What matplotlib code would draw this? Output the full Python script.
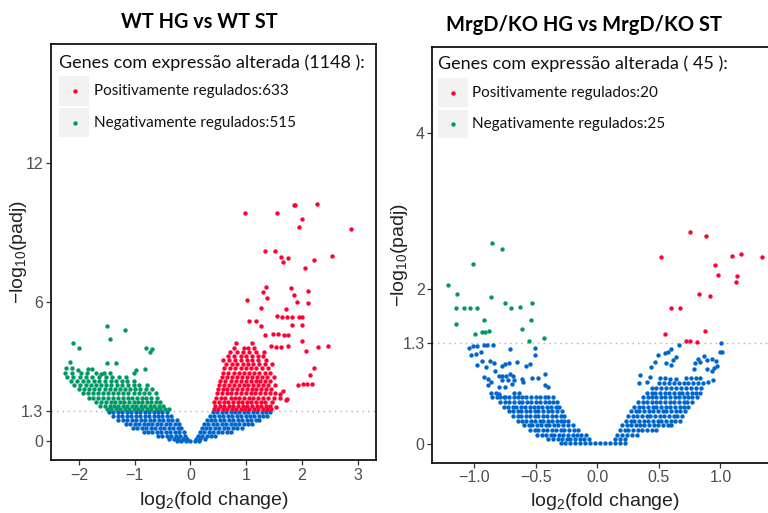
import matplotlib.pyplot as plt
from matplotlib.patches import Rectangle
import numpy as np

plt.rcParams['font.family'] = 'Liberation Sans'
plt.rcParams['mathtext.fontset'] = 'custom'
plt.rcParams['mathtext.rm'] = 'Liberation Sans'

UP, DOWN, NS = '#FF0033', '#009966', '#0066CC'
TXT = 'Lato'

# ---------------- WT HG vs WT ST ----------------
wt_up_scatter = [
    (0.98, 9.81), (1.55, 9.81), (1.85, 10.17), (1.88, 10.17), (2.28, 10.21), (2.00, 9.55), (1.95, 9.21), (2.89, 9.14),
    (1.34, 8.19), (1.52, 8.19), (1.62, 7.94), (1.76, 7.87), (1.66, 7.70), (2.54, 7.98), (2.21, 7.81), (2.06, 7.47),
    (1.35, 6.62), (1.31, 6.40), (1.37, 6.17), (1.02, 6.06), (1.80, 6.58), (1.85, 6.29), (2.11, 6.47), (1.92, 5.99),
    (2.11, 5.94), (1.26, 5.74), (1.72, 5.68), (1.55, 5.40), (1.64, 5.33), (1.74, 5.33), (1.82, 5.33), (1.94, 5.34),
    (2.01, 5.32), (1.06, 5.15), (1.18, 5.17), (1.27, 4.96), (1.83, 4.99), (2.01, 4.99), (1.34, 4.55), (1.49, 4.62),
    (1.58, 4.62), (1.68, 4.58), (1.76, 4.56), (2.01, 4.29), (1.45, 4.10), (1.54, 4.05), (1.63, 4.05), (1.75, 4.10),
    (2.29, 4.05), (2.47, 4.07), (2.07, 3.88), (2.21, 3.12), (2.14, 2.84), (1.93, 2.42), (2.02, 2.47), (2.10, 2.45),
    (2.18, 2.45), (1.66, 2.16), (1.61, 1.85), (1.71, 1.78), (1.74, 1.82), (1.54, 1.44), (1.60, 2.00),
]
wt_up_rows = [
    (1.36, [0.42, 0.50, 0.58, 0.66, 0.74, 0.82, 0.90, 0.98, 1.06, 1.14, 1.22, 1.30, 1.38, 1.45]),
    (1.52, [0.44, 0.53, 0.61, 0.69, 0.77, 0.86, 0.94, 1.02, 1.10, 1.19, 1.27, 1.35, 1.43]),
    (1.68, [0.43, 0.51, 0.60, 0.68, 0.76, 0.85, 0.93, 1.01, 1.09, 1.17, 1.26, 1.34, 1.47]),
    (1.86, [0.46, 0.55, 0.63, 0.72, 0.80, 0.88, 0.97, 1.05, 1.13, 1.22, 1.30, 1.39, 1.50]),
    (2.04, [0.47, 0.56, 0.65, 0.73, 0.82, 0.91, 0.99, 1.08, 1.16, 1.25, 1.33, 1.42, 1.52]),
    (2.22, [0.49, 0.58, 0.66, 0.75, 0.84, 0.92, 1.01, 1.10, 1.18, 1.27, 1.36, 1.45]),
    (2.40, [0.52, 0.61, 0.70, 0.78, 0.87, 0.96, 1.04, 1.13, 1.22, 1.30, 1.39, 1.52]),
    (2.58, [0.53, 0.63, 0.72, 0.81, 0.90, 0.99, 1.08, 1.17, 1.25, 1.34, 1.43]),
    (2.76, [0.56, 0.66, 0.75, 0.84, 0.93, 1.02, 1.11, 1.20, 1.29, 1.38, 1.50]),
    (2.94, [0.58, 0.68, 0.78, 0.87, 0.96, 1.05, 1.14, 1.23, 1.33, 1.43]),
    (3.12, [0.60, 0.71, 0.80, 0.90, 0.99, 1.09, 1.18, 1.28, 1.40]),
    (3.30, [0.64, 0.74, 0.84, 0.94, 1.03, 1.13, 1.23, 1.34, 1.47]),
    (3.48, [0.59, 0.70, 0.80, 0.91, 1.01, 1.11, 1.22, 1.36]),
    (3.66, [0.68, 0.79, 0.90, 1.00, 1.10, 1.21, 1.30]),
    (3.84, [0.71, 0.84, 0.95, 1.06, 1.18, 1.32]),
    (4.02, [0.78, 0.97, 1.04, 1.14]),
    (4.20, [0.81, 1.11]),
]
wt_down_scatter = [
    (-1.49, 4.95), (-1.17, 4.76), (-1.44, 4.39), (-2.11, 4.20), (-2.00, 4.01), (-0.80, 4.01), (-0.68, 3.97),
    (-0.72, 3.83), (-1.49, 3.35), (-1.34, 3.35), (-2.16, 3.40), (-2.23, 3.14), (-2.13, 3.14), (-2.02, 3.05),
    (-1.83, 3.11), (-1.76, 3.11), (-0.97, 3.06), (-1.01, 2.93), (-0.81, 3.09), (-1.61, 2.88), (-1.44, 2.92),
]
wt_down_rows = [
    (1.36, [-1.50, -1.42, -1.34, -1.26, -1.18, -1.10, -1.02, -0.94, -0.86, -0.78, -0.70, -0.62, -0.54, -0.46, -0.39]),
    (1.52, [-1.62, -1.53, -1.45, -1.37, -1.29, -1.21, -1.13, -1.05, -0.97, -0.89, -0.81, -0.73, -0.65, -0.57, -0.49]),
    (1.68, [-1.70, -1.61, -1.52, -1.43, -1.35, -1.27, -1.19, -1.10, -1.02, -0.94, -0.86, -0.78, -0.70, -0.62, -0.55]),
    (1.86, [-1.82, -1.74, -1.65, -1.56, -1.47, -1.38, -1.30, -1.21, -1.12, -1.04, -0.96, -0.87, -0.79, -0.70, -0.60]),
    (2.04, [-1.92, -1.83, -1.74, -1.65, -1.56, -1.47, -1.38, -1.29, -1.20, -1.11, -1.02, -0.93, -0.84, -0.74, -0.62]),
    (2.22, [-2.00, -1.90, -1.81, -1.72, -1.63, -1.54, -1.45, -1.36, -1.27, -1.18, -1.09, -1.00, -0.90, -0.80, -0.68]),
    (2.40, [-2.08, -1.98, -1.88, -1.79, -1.70, -1.60, -1.51, -1.42, -1.32, -1.22, -1.12, -1.02, -0.92, -0.78]),
    (2.58, [-2.14, -2.03, -1.93, -1.83, -1.73, -1.63, -1.53, -1.43, -1.33, -1.23, -1.13, -1.01]),
    (2.76, [-2.22, -2.10, -1.98, -1.87, -1.76, -1.64, -1.52, -1.40, -1.28, -1.15]),
    (2.94, [-2.25, -2.12, -1.97, -1.85, -1.70, -1.55]),
]
wt_ns_rows = [
    (1.22, [-1.46, -1.38, -1.30, -1.22, -1.14, -1.06, -0.98, -0.90, -0.82, -0.74, -0.66, -0.58, -0.50, -0.42]),
    (1.05, [-1.38, -1.30, -1.22, -1.14, -1.06, -0.98, -0.90, -0.82, -0.74, -0.66, -0.58, -0.50, -0.42, -0.34]),
    (0.88, [-1.30, -1.21, -1.13, -1.05, -0.97, -0.89, -0.81, -0.73, -0.65, -0.57, -0.49, -0.41, -0.33, -0.24]),
    (0.71, [-1.16, -1.08, -1.00, -0.92, -0.84, -0.76, -0.68, -0.60, -0.52, -0.44, -0.36, -0.28, -0.20]),
    (0.54, [-1.03, -0.95, -0.87, -0.79, -0.71, -0.63, -0.55, -0.47, -0.39, -0.31, -0.23, -0.16]),
    (0.38, [-0.84, -0.76, -0.68, -0.60, -0.52, -0.44, -0.36, -0.28, -0.20, -0.12]),
    (0.22, [-0.58, -0.50, -0.42, -0.34, -0.26, -0.18, -0.10]),
    (0.08, [-0.38, -0.30, -0.22, -0.14, -0.06, 0.10, 0.18, 0.26]),
    (0.01, [-0.24, -0.16, -0.08, 0.00, 0.08, 0.16]),
    (0.22, [0.13, 0.21, 0.29, 0.37, 0.45]),
    (0.38, [0.17, 0.25, 0.33, 0.41, 0.49, 0.57, 0.65, 0.72]),
    (0.54, [0.20, 0.28, 0.36, 0.44, 0.52, 0.60, 0.68, 0.76, 0.84, 0.92]),
    (0.71, [0.24, 0.32, 0.40, 0.48, 0.56, 0.64, 0.72, 0.80, 0.88, 0.96, 1.04, 1.11]),
    (0.88, [0.29, 0.37, 0.45, 0.53, 0.61, 0.69, 0.77, 0.85, 0.93, 1.01, 1.09, 1.17, 1.24]),
    (1.05, [0.35, 0.43, 0.51, 0.59, 0.67, 0.75, 0.83, 0.91, 0.99, 1.07, 1.15, 1.23, 1.31, 1.37]),
    (1.22, [0.40, 0.48, 0.56, 0.64, 0.72, 0.80, 0.88, 0.96, 1.04, 1.12, 1.20, 1.28, 1.36, 1.43]),
]
wt_total, wt_n_up, wt_n_down = 1148, 633, 515

# ---------------- MrgD/KO HG vs MrgD/KO ST ----------------
ko_up_scatter = [
    (0.752, 2.73), (0.880, 2.67), (0.514, 2.40), (1.093, 2.42), (1.169, 2.44), (1.335, 2.40), (0.955, 2.30),
    (0.982, 2.18), (1.137, 2.16), (1.128, 2.09), (0.828, 1.93), (0.915, 1.90), (0.598, 1.75), (0.668, 1.75),
    (0.549, 1.41), (0.871, 1.45), (0.717, 1.33), (0.752, 1.32), (0.806, 1.31),
]
ko_down_scatter = [
    (-0.855, 2.58), (-0.776, 2.51), (-1.015, 2.32), (-1.218, 2.04), (-1.140, 1.93), (-1.148, 1.75), (-1.085, 1.75),
    (-1.033, 1.75), (-0.980, 1.75), (-0.868, 1.89), (-0.749, 1.81), (-0.700, 1.75), (-0.630, 1.76), (-0.533, 1.81),
    (-1.148, 1.55), (-0.923, 1.60), (-0.541, 1.60), (-0.998, 1.42), (-0.939, 1.44), (-0.911, 1.44), (-0.878, 1.46),
    (-0.616, 1.48), (-0.554, 1.33), (-0.435, 1.36),
]
ko_ns_scatter = [
    (-1.046, 1.24), (-1.012, 1.26), (-0.980, 1.26), (-0.926, 1.27), (-0.898, 1.27), (-0.852, 1.27), (-0.714, 1.22),
    (-0.511, 1.24), (-0.511, 1.15), (-1.026, 1.15), (-0.985, 1.16), (-0.945, 1.18), (-0.939, 1.07), (-0.870, 1.07),
    (-0.841, 1.04), (-0.977, 1.02), (-0.909, 0.99), (-0.776, 1.00), (-0.749, 1.03), (-0.717, 1.04), (-0.652, 1.05),
    (-0.581, 1.01), (-0.551, 1.03), (-0.831, 0.94), (-0.803, 0.88), (-0.776, 0.87), (-0.746, 0.87), (-0.714, 0.90),
    (-0.684, 0.88), (-0.926, 0.86), (-0.888, 0.84), (-0.869, 0.80), (-0.614, 0.84), (-0.606, 0.80), (-0.533, 0.85),
    (-0.484, 0.85), (-0.425, 0.90), (-0.780, 0.83), (-0.730, 0.83), (-0.680, 0.83), (-0.890, 0.76), (-0.798, 0.73),
    (-0.755, 0.73), (-0.695, 0.77), (-0.430, 0.76), (-0.400, 0.73), (-0.863, 0.66), (-0.825, 0.66), (-0.798, 0.65),
    (-0.680, 0.66), (-0.640, 0.66), (-0.760, 0.61),
    (1.002, 1.30), (1.013, 1.18), (0.995, 1.18), (0.660, 1.27), (0.600, 1.22), (0.549, 1.17), (0.573, 1.19),
    (0.636, 1.12), (0.612, 1.08), (0.492, 1.15), (0.465, 1.05), (0.560, 1.04), (0.600, 1.02), (0.432, 0.99),
    (0.790, 1.04), (0.830, 1.05), (0.820, 1.10), (0.866, 1.13), (0.890, 1.08), (0.930, 1.09), (0.960, 1.07),
    (0.890, 0.96), (0.930, 0.94), (0.950, 0.98), (0.970, 1.00), (0.785, 0.97), (0.346, 0.89), (0.337, 0.78),
    (0.430, 0.86), (0.510, 0.85), (0.550, 0.85), (0.590, 0.84), (0.720, 0.85), (0.760, 0.85), (0.800, 0.85),
    (0.830, 0.85), (0.640, 0.84), (0.900, 0.80), (0.940, 0.82), (0.400, 0.80),
]
ko_ns_rows = [
    (0.60, [-0.86, -0.82, -0.79, -0.75, -0.72, -0.68, -0.65, -0.61, -0.58, -0.54, -0.50, -0.47, -0.43, -0.40, -0.36]),
    (0.54, [-0.79, -0.75, -0.72, -0.68, -0.64, -0.61, -0.57, -0.54, -0.50, -0.47, -0.43, -0.39, -0.36, -0.33]),
    (0.48, [-0.76, -0.73, -0.69, -0.66, -0.62, -0.59, -0.55, -0.52, -0.48, -0.45, -0.41, -0.38, -0.34, -0.31]),
    (0.42, [-0.72, -0.69, -0.65, -0.62, -0.58, -0.55, -0.51, -0.48, -0.44, -0.40, -0.37, -0.33, -0.29]),
    (0.36, [-0.69, -0.65, -0.62, -0.58, -0.55, -0.51, -0.48, -0.44, -0.41, -0.37, -0.34, -0.30, -0.27]),
    (0.30, [-0.65, -0.61, -0.58, -0.54, -0.51, -0.47, -0.44, -0.40, -0.37, -0.33, -0.30, -0.27, -0.24]),
    (0.24, [-0.60, -0.56, -0.53, -0.49, -0.46, -0.42, -0.39, -0.35, -0.32, -0.28, -0.24, -0.20]),
    (0.18, [-0.55, -0.51, -0.48, -0.44, -0.41, -0.37, -0.34, -0.30, -0.27, -0.23, -0.19, -0.16]),
    (0.12, [-0.49, -0.45, -0.42, -0.38, -0.35, -0.31, -0.28, -0.24, -0.20, -0.17, -0.13, -0.09]),
    (0.06, [-0.40, -0.36, -0.32, -0.29, -0.25, -0.22, -0.18, -0.14, -0.11, -0.07]),
    (0.01, [-0.30, -0.26, -0.22, -0.18, -0.14, -0.10, -0.06, -0.02, 0.02, 0.06, 0.10, 0.14, 0.18, 0.22]),
    (0.06, [0.14, 0.18, 0.22]),
    (0.12, [0.16, 0.20, 0.24, 0.28, 0.32]),
    (0.18, [0.18, 0.22, 0.25, 0.29, 0.33, 0.36, 0.40, 0.44, 0.48]),
    (0.24, [0.20, 0.24, 0.27, 0.31, 0.35, 0.38, 0.42, 0.46, 0.49, 0.53, 0.57, 0.60]),
    (0.30, [0.23, 0.27, 0.30, 0.34, 0.38, 0.41, 0.45, 0.49, 0.52, 0.56, 0.60, 0.63, 0.67]),
    (0.36, [0.25, 0.29, 0.32, 0.36, 0.40, 0.43, 0.47, 0.51, 0.54, 0.58, 0.62, 0.65, 0.69]),
    (0.42, [0.27, 0.31, 0.34, 0.38, 0.42, 0.45, 0.49, 0.53, 0.56, 0.60, 0.64, 0.67, 0.71]),
    (0.48, [0.30, 0.34, 0.37, 0.41, 0.45, 0.48, 0.52, 0.56, 0.59, 0.63, 0.67, 0.70, 0.74]),
    (0.54, [0.33, 0.37, 0.40, 0.44, 0.48, 0.51, 0.55, 0.59, 0.62, 0.66, 0.70, 0.73, 0.77]),
    (0.60, [0.37, 0.41, 0.44, 0.48, 0.52, 0.55, 0.59, 0.63, 0.66, 0.70, 0.74, 0.77, 0.81]),
    (0.66, [0.40, 0.44, 0.47, 0.51, 0.55, 0.58, 0.62, 0.66, 0.69, 0.73, 0.77, 0.80, 0.83]),
    (0.72, [0.44, 0.48, 0.52, 0.56, 0.60, 0.64, 0.68, 0.72, 0.76, 0.80, 0.84]),
    (0.78, [0.50, 0.54, 0.58, 0.62, 0.66, 0.70, 0.74, 0.78, 0.82, 0.86]),
]
ko_total, ko_n_up, ko_n_down = 45, 20, 25


def points(scatter=(), rows=()):
    xs = [p[0] for p in scatter]
    ys = [p[1] for p in scatter]
    for y, row in rows:
        xs += row
        ys += [y] * len(row)
    return np.array(xs), np.array(ys)


def volcano(ax, groups, xlim, ylim, xticks, yticks, yticklabels):
    for (x, y), c in groups:
        ax.scatter(x, y, s=10, c=c, linewidths=0, zorder=3)
    ax.axhline(1.3, color='#B0B0B0', ls=(0, (1, 3)), lw=1.0, zorder=2)
    ax.set_xlim(*xlim)
    ax.set_ylim(*ylim)
    ax.set_xticks(xticks)
    ax.set_yticks(yticks)
    ax.set_yticklabels(yticklabels)
    for sp in ax.spines.values():
        sp.set_linewidth(1.2)
        sp.set_color('black')
    ax.tick_params(length=3.5, width=0.9, color='#333333', labelsize=11.5,
                   labelcolor='#4D4D4D', pad=2)
    ax.set_xlabel(r'$\mathrm{log}_2\mathrm{(fold\ change)}$', fontsize=14, color='#222222')
    ax.set_ylabel(r'$-\mathrm{log}_{10}\mathrm{(padj)}$', fontsize=14, color='#222222')


def key_box(ax, title, entries, x0, w, y_title, boxes, dot_x, text_x):
    ax.text(x0, y_title, title, transform=ax.transAxes, family=TXT, fontsize=13,
            va='center', ha='left', color='#111111')
    for (label, color), (yb, yt) in zip(entries, boxes):
        ax.add_patch(Rectangle((x0, yb), w, yt - yb, transform=ax.transAxes,
                               facecolor='#F2F2F2', edgecolor='none', clip_on=False, zorder=4))
        ym = (yb + yt) / 2
        ax.scatter([dot_x], [ym], s=10, c=color, linewidths=0, transform=ax.transAxes, zorder=5)
        ax.text(text_x, ym, label, transform=ax.transAxes, family=TXT, fontsize=11,
                va='center', ha='left', color='#111111')


fig = plt.figure(figsize=(7.68, 5.13), dpi=100)
ax1 = fig.add_axes([0.0664, 0.1033, 0.4232, 0.8109])
ax2 = fig.add_axes([0.5629, 0.0980, 0.4488, 0.8110])

volcano(ax1,
        [(points(rows=wt_ns_rows), NS),
         (points(wt_down_scatter, wt_down_rows), DOWN),
         (points(wt_up_scatter, wt_up_rows), UP)],
        (-2.50, 3.33), (-0.83, 17.12), [-2, -1, 0, 1, 2, 3], [0, 1.3, 6, 12], ['0', '1.3', '6', '12'])
ax1.xaxis.set_label_coords(0.5, -0.071)
ax1.yaxis.set_label_coords(-0.068, 0.5)

volcano(ax2,
        [(points(ko_ns_scatter, ko_ns_rows), NS),
         (points(ko_down_scatter), DOWN),
         (points(ko_up_scatter), UP)],
        (-1.343, 1.46), (-0.24, 5.11), [-1.0, -0.5, 0.0, 0.5, 1.0], [0, 1.3, 2, 4], ['0', '1.3', '2', '4'])
ax2.xaxis.set_label_coords(0.5, -0.068)
ax2.yaxis.set_label_coords(-0.064, 0.5)

key_box(ax1, f'Genes com expressão alterada ({wt_total} ):',
        [(f'Positivamente regulados:{wt_n_up}', UP), (f'Negativamente regulados:{wt_n_down}', DOWN)],
        0.0246, 0.0924, 0.954, [(0.851, 0.923), (0.776, 0.846)], 0.074, 0.132)
key_box(ax2, f'Genes com expressão alterada ( {ko_total} ):',
        [(f'Positivamente regulados:{ko_n_up}', UP), (f'Negativamente regulados:{ko_n_down}', DOWN)],
        0.0174, 0.087, 0.960, [(0.854, 0.925), (0.780, 0.848)], 0.060, 0.116)

fig.text(0.260, 0.958, 'WT HG vs WT ST', family=TXT, fontweight='bold', fontsize=14.3,
         ha='center', va='center')
fig.text(0.761, 0.951, 'MrgD/KO HG vs MrgD/KO ST', family=TXT, fontweight='bold', fontsize=14.5,
         ha='center', va='center')

fig.savefig('out.png', dpi=100)
